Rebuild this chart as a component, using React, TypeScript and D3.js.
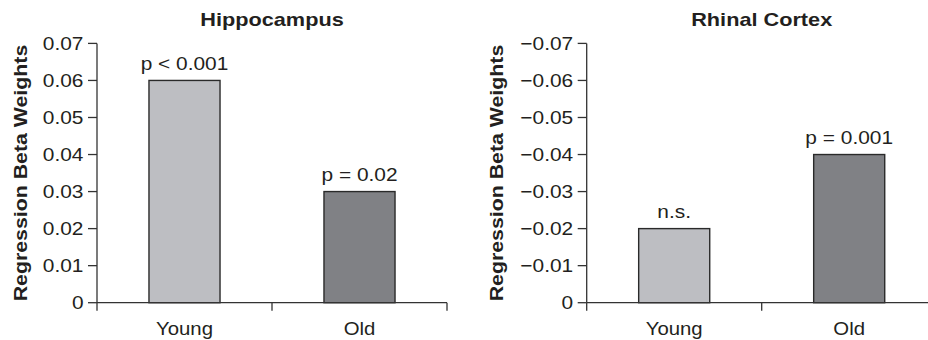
import React from "react";
import * as d3 from "d3";

const groups = ["Young", "Old"];
const hippocampusValues = [0.06, 0.03];
const hippocampusNotes = ["p < 0.001", "p = 0.02"];
const hippocampusTicks = [0, 0.01, 0.02, 0.03, 0.04, 0.05, 0.06, 0.07];
const rhinalValues = [-0.02, -0.04];
const rhinalNotes = ["n.s.", "p = 0.001"];
const rhinalTicks = [0, -0.01, -0.02, -0.03, -0.04, -0.05, -0.06, -0.07];
const barColors = ["#bdbec2", "#808185"];

const W = 928;
const H = 340;
const TOP = 43.4;
const BASE = 302.7;
const PLOT_W = 350;
const FONT = "'Liberation Sans', Arial, Helvetica, sans-serif";
const INK = "#231f20";
const SX = 1.13; // the original type is set a little wider than Arial

type PanelProps = {
  title: string;
  values: number[];
  notes: string[];
  ticks: number[];
  x0: number;
  labelX: number;
};

const fmt = (d: number) => (d === 0 ? "0" : d3.format(".2f")(d));

const Panel = ({ title, values, notes, ticks, x0, labelX }: PanelProps) => {
  const y = d3.scaleLinear().domain([0, ticks[ticks.length - 1]]).range([BASE, TOP]);
  const x = d3
    .scaleBand()
    .domain(groups)
    .range([0, PLOT_W])
    .paddingInner(0.594)
    .paddingOuter(0.297);
  const edges = d3.range(groups.length + 1).map((i) => i * x.step());

  return (
    <g>
      {/* title */}
      <text
        transform={`translate(${x0 + PLOT_W / 2},25.7) scale(1.16,1)`}
        textAnchor="middle"
        fontSize={18.7}
        fontWeight="bold"
        fill={INK}
      >
        {title}
      </text>

      {/* y label */}
      <text
        transform={`translate(${labelX},${(TOP + BASE) / 2}) rotate(-90) scale(1.14,1)`}
        textAnchor="middle"
        fontSize={18.7}
        fontWeight="bold"
        fill={INK}
      >
        Regression Beta Weights
      </text>

      {/* bars */}
      {values.map((v, i) => (
        <rect
          key={groups[i]}
          x={x0 + (x(groups[i]) as number)}
          y={y(v)}
          width={x.bandwidth()}
          height={BASE - y(v)}
          fill={barColors[i]}
          stroke="#2a2a2a"
          strokeWidth={1.4}
        />
      ))}

      {/* notes above bars */}
      {values.map((v, i) => (
        <text
          key={notes[i]}
          transform={`translate(${x0 + (x(groups[i]) as number) + x.bandwidth() / 2},${y(v) - 10.8}) scale(${SX},1)`}
          textAnchor="middle"
          fontSize={18.5}
          fill={INK}
        >
          {notes[i]}
        </text>
      ))}

      {/* y axis */}
      <line x1={x0} x2={x0} y1={TOP} y2={BASE} stroke="#333" strokeWidth={1.3} />
      {ticks.map((t) => (
        <g key={t}>
          <line x1={x0 - 9} x2={x0} y1={y(t)} y2={y(t)} stroke="#333" strokeWidth={1.3} />
          <text
            transform={`translate(${x0 - 13.5},${y(t) + 6.7}) scale(${SX},1)`}
            textAnchor="end"
            fontSize={18.5}
            fill={INK}
          >
            {fmt(t)}
          </text>
        </g>
      ))}

      {/* x axis */}
      <line x1={x0} x2={x0 + PLOT_W} y1={BASE} y2={BASE} stroke="#333" strokeWidth={1.3} />
      {edges.map((e) => (
        <line key={e} x1={x0 + e} x2={x0 + e} y1={BASE} y2={BASE + 8} stroke="#333" strokeWidth={1.3} />
      ))}
      {groups.map((g) => (
        <text
          key={g}
          transform={`translate(${x0 + (x(g) as number) + x.bandwidth() / 2},335.2) scale(1.1,1)`}
          textAnchor="middle"
          fontSize={18.5}
          fill={INK}
        >
          {g}
        </text>
      ))}
    </g>
  );
};

export default function App() {
  return (
    <div style={{ position: "absolute", left: 0, top: 0 }}>
      <svg width={W} height={H} style={{ display: "block", background: "#fff", fontFamily: FONT }}>
        <Panel
          title="Hippocampus"
          values={hippocampusValues}
          notes={hippocampusNotes}
          ticks={hippocampusTicks}
          x0={97}
          labelX={26.5}
        />
        <Panel
          title="Rhinal Cortex"
          values={rhinalValues}
          notes={rhinalNotes}
          ticks={rhinalTicks}
          x0={586.7}
          labelX={503}
        />
      </svg>
    </div>
  );
}
